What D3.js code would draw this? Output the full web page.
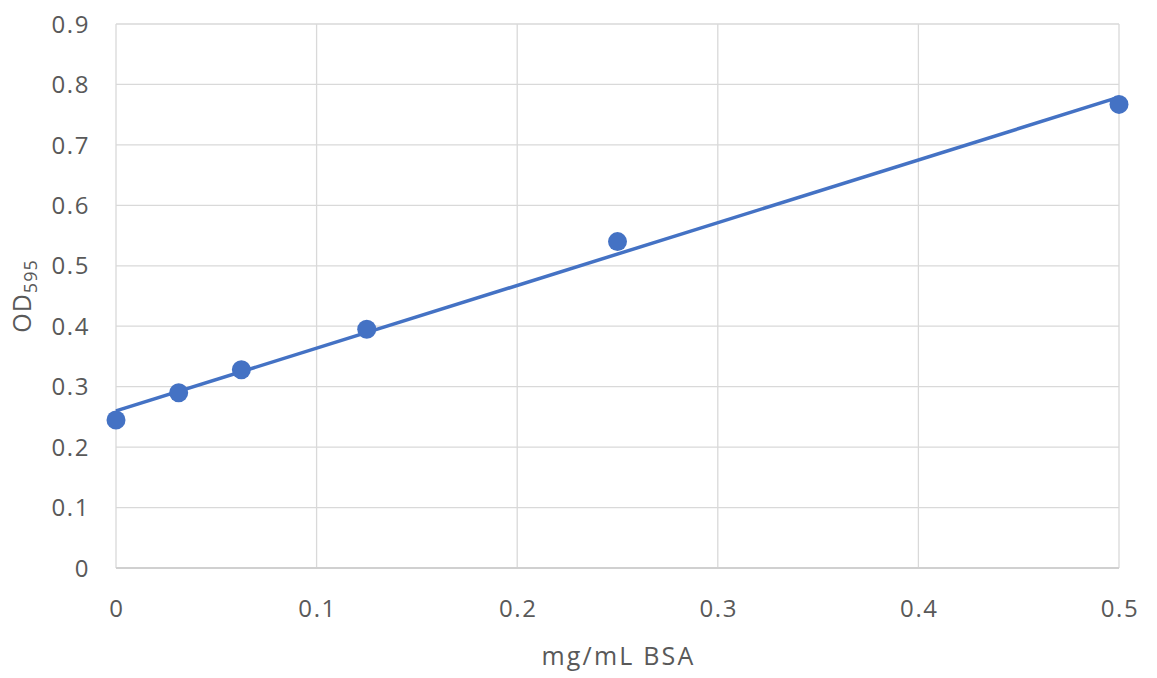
<!DOCTYPE html>
<html>
<head>
<meta charset="utf-8">
<script src="https://cdn.jsdelivr.net/npm/d3@7"></script>
<style>
  body { margin: 0; background: #fff; }
  text { font-family: "Open Sans", sans-serif; fill: #595959; }
</style>
</head>
<body>
<div id="chart"></div>
<script>
// BSA standard curve
var concentration = [0, 0.03125, 0.0625, 0.125, 0.25, 0.5]
var absorbance = [0.245, 0.29, 0.328, 0.395, 0.54, 0.767]
var xTicks = [0, 0.1, 0.2, 0.3, 0.4, 0.5]
var yTicks = [0, 0.1, 0.2, 0.3, 0.4, 0.5, 0.6, 0.7, 0.8, 0.9]

var width = 1157
var height = 678
var margin = { top: 24, right: 38, bottom: 110, left: 116 }
var blue = '#4472c4'

var svg = d3.select('#chart').append('svg')
  .attr('width', width)
  .attr('height', height)

var x = d3.scaleLinear()
  .domain([0, 0.5])
  .range([margin.left, width - margin.right])

var y = d3.scaleLinear()
  .domain([0, 0.9])
  .range([height - margin.bottom, margin.top])

// gridlines
svg.append('g')
  .selectAll('line.hgrid')
  .data(yTicks)
  .enter().append('line')
    .attr('class', 'hgrid')
    .attr('x1', x(0))
    .attr('x2', x(0.5))
    .attr('y1', function (d) { return y(d) })
    .attr('y2', function (d) { return y(d) })
    .attr('stroke', '#d9d9d9')
    .attr('stroke-width', 1.3)

svg.append('g')
  .selectAll('line.vgrid')
  .data(xTicks)
  .enter().append('line')
    .attr('class', 'vgrid')
    .attr('x1', function (d) { return x(d) })
    .attr('x2', function (d) { return x(d) })
    .attr('y1', y(0))
    .attr('y2', y(0.9))
    .attr('stroke', '#d9d9d9')
    .attr('stroke-width', 1.3)

// bottom axis line a touch darker
svg.append('line')
  .attr('x1', x(0)).attr('x2', x(0.5))
  .attr('y1', y(0)).attr('y2', y(0))
  .attr('stroke', '#d0d0d0')
  .attr('stroke-width', 2)

// tick labels
var fmt = function (d) { return d === 0 ? '0' : d3.format('.1f')(d) }

svg.append('g')
  .selectAll('text')
  .data(yTicks)
  .enter().append('text')
    .attr('x', margin.left - 26)
    .attr('y', function (d) { return y(d) })
    .attr('dy', '0.36em')
    .attr('text-anchor', 'end')
    .style('font-size', '24px')
    .style('letter-spacing', '1.6px')
    .text(fmt)

svg.append('g')
  .selectAll('text')
  .data(xTicks)
  .enter().append('text')
    .attr('x', function (d) { return x(d) + 1 })
    .attr('y', y(0) + 49)
    .attr('text-anchor', 'middle')
    .style('font-size', '24px')
    .style('letter-spacing', '1.6px')
    .text(fmt)

// axis titles
svg.append('text')
  .attr('x', (x(0) + x(0.5)) / 2 + 1)
  .attr('y', y(0) + 97)
  .attr('text-anchor', 'middle')
  .style('font-size', '25px')
  .style('letter-spacing', '2.2px')
  .text('mg/mL BSA')

var yTitle = svg.append('text')
  .attr('transform', 'translate(31,' + ((y(0) + y(0.9)) / 2) + ') rotate(-90)')
  .attr('text-anchor', 'middle')
  .style('font-size', '25px')
  .style('letter-spacing', '1px')
yTitle.append('tspan').text('OD')
yTitle.append('tspan')
  .attr('dy', '6')
  .style('font-size', '18px')
  .text('595')

// linear trendline (least squares, as the spreadsheet draws it)
var mx = d3.mean(concentration)
var my = d3.mean(absorbance)
var sxy = d3.sum(concentration, function (c, i) { return (c - mx) * (absorbance[i] - my) })
var sxx = d3.sum(concentration, function (c) { return (c - mx) * (c - mx) })
var slope = sxy / sxx
var intercept = my - slope * mx

svg.append('line')
  .attr('x1', x(0))
  .attr('y1', y(intercept))
  .attr('x2', x(0.5))
  .attr('y2', y(intercept + slope * 0.5))
  .attr('stroke', blue)
  .attr('stroke-width', 3.5)

// data points
svg.append('g')
  .selectAll('circle')
  .data(concentration)
  .enter().append('circle')
    .attr('cx', function (d) { return x(d) })
    .attr('cy', function (d, i) { return y(absorbance[i]) })
    .attr('r', 9.5)
    .attr('fill', blue)
</script>
</body>
</html>
